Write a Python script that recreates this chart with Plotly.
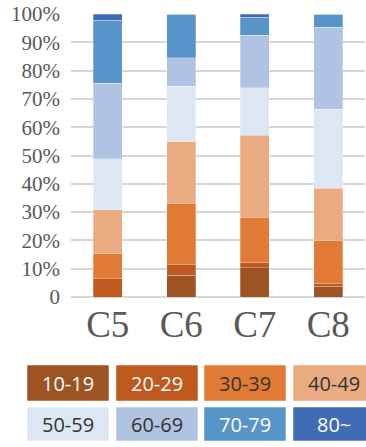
import plotly.graph_objects as go

# Categories and age bands
groups = ["C5", "C6", "C7", "C8"]
age_bands = ["10-19", "20-29", "30-39", "40-49", "50-59", "60-69", "70-79", "80~"]

# Share (%) of each age band per group
share_10_19 = [0.0, 7.7, 10.4, 3.8]
share_20_29 = [6.4, 3.9, 1.9, 1.0]
share_30_39 = [8.9, 21.6, 15.8, 15.0]
share_40_49 = [15.6, 21.6, 29.1, 18.7]
share_50_59 = [18.0, 19.7, 16.8, 27.8]
share_60_69 = [26.6, 10.0, 18.5, 29.1]
share_70_79 = [22.3, 15.5, 6.4, 4.6]
share_80_up = [2.2, 0.0, 1.1, 0.0]

# Axis tick labels
y_tick_values = [0, 10, 20, 30, 40, 50, 60, 70, 80, 90, 100]
y_tick_labels = ["0", "10%", "20%", "30%", "40%", "50%", "60%", "70%", "80%", "90%", "100%"]

series = [share_10_19, share_20_29, share_30_39, share_40_49,
          share_50_59, share_60_69, share_70_79, share_80_up]

colors = ["#9E5322", "#BF591E", "#E07A35", "#EBAB80",
          "#DCE7F3", "#B0C3E2", "#5694CA", "#3F6CB4"]
text_colors = ["white", "white", "#333333", "#333333",
               "#333333", "#333333", "white", "white"]

fig = go.Figure()
for band, vals, col in zip(age_bands, series, colors):
    fig.add_trace(go.Bar(
        x=groups, y=vals, name=band,
        marker=dict(color=col, line=dict(color="rgba(255,255,255,0.45)", width=0.6)),
        width=0.4, showlegend=False,
    ))

# Plot-area geometry in pixels (used to place the custom legend)
W, H = 366, 447
L, R, T, B = 71, 1, 14, 150
plot_w = W - L - R
plot_h = H - T - B


def px_x(px):
    return (px - L) / plot_w


def px_y(py):
    return (H - B - py) / plot_h


# Custom legend: two rows of coloured boxes with labels inside
box_lefts = [27, 116, 204, 293]
box_w = 82
rows = [(365, 401), (407, 441)]
shapes = []
annotations = []
for i, (band, col, tcol) in enumerate(zip(age_bands, colors, text_colors)):
    r, c = divmod(i, 4)
    x0 = box_lefts[c]
    y0, y1 = rows[r]
    shapes.append(dict(
        type="rect", xref="paper", yref="paper",
        x0=px_x(x0), x1=px_x(x0 + box_w), y0=px_y(y1), y1=px_y(y0),
        fillcolor=col, line=dict(color="rgba(255,255,255,0.5)", width=1),
        layer="above",
    ))
    annotations.append(dict(
        xref="paper", yref="paper",
        x=px_x(x0 + box_w / 2), y=px_y((y0 + y1) / 2),
        text=band, showarrow=False, xanchor="center", yanchor="middle",
        font=dict(family="Open Sans", size=20, color=tcol),
    ))

fig.update_layout(
    width=W, height=H,
    margin=dict(l=L, r=R, t=T, b=B),
    barmode="stack",
    bargap=0.6,
    plot_bgcolor="white",
    paper_bgcolor="white",
    shapes=shapes,
    annotations=annotations,
    xaxis=dict(
        showgrid=False, showline=False, zeroline=False,
        tickfont=dict(family="Liberation Serif", size=37, color="#595959"),
        ticklabelstandoff=2,
    ),
    yaxis=dict(
        range=[0, 100],
        tickvals=y_tick_values, ticktext=y_tick_labels,
        showgrid=True, gridcolor="#D6D6D6", gridwidth=1.8,
        zeroline=True, zerolinecolor="#D6D6D6", zerolinewidth=1.8,
        showline=False,
        tickfont=dict(family="Liberation Serif", size=21, color="#595959"),
        ticklabelstandoff=10,
    ),
)

fig.write_html("out.html")
